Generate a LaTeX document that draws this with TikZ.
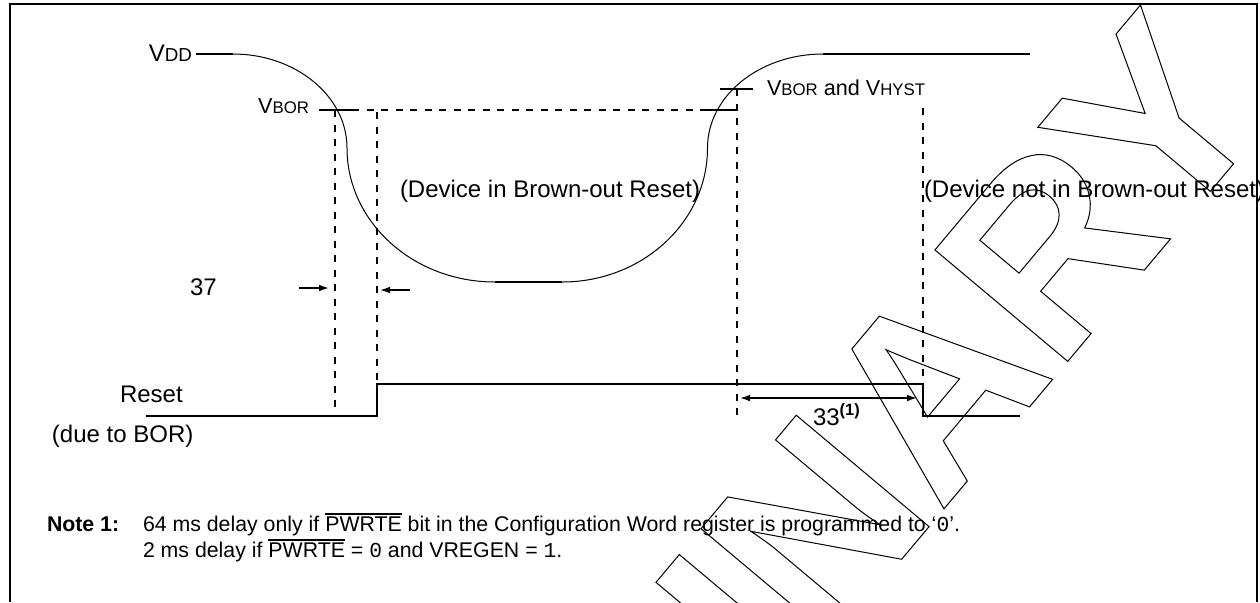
\documentclass[tikz,border=0pt]{standalone}
\usepackage{fontspec}
\setmainfont{Liberation Sans}
\newfontfamily\monofont{Liberation Mono}
\newfontfamily\wmfont{Liberation Sans Bold}
\usetikzlibrary{arrows.meta}
\newcommand\ovl[1]{\leavevmode\vbox{\hrule height 0.7pt\kern 0.9pt\hbox{#1}}}
\newcommand\outlined[1]{\special{pdf:literal direct 1 Tr 0.5 w}#1\special{pdf:literal direct 0 Tr}}
\newcommand\bigsz{\fontsize{12}{14}\selectfont}
\newcommand\midsz{\fontsize{10.8}{13}\selectfont}
\newcommand\notesz{\fontsize{10.65}{13}\selectfont}
\begin{document}
\begin{tikzpicture}[x=0.5pt,y=-0.5pt]
\tikzset{
  lbl/.style={inner sep=0pt, outer sep=0pt, font=\bigsz},
  vlbl/.style={inner sep=0pt, outer sep=0pt, font=\midsz},
  notelbl/.style={inner sep=0pt, outer sep=0pt, font=\notesz},
  sigline/.style={line width=1.1pt},
  curveline/.style={line width=0.5pt},
  dashline/.style={line width=0.9pt, dash pattern=on 3.5pt off 3.75pt},
  frameline/.style={line width=1.1pt},
  dimarrow/.style={line width=0.8pt, -{Latex[length=5pt,width=3.4pt]}},
  dimarrows/.style={line width=0.8pt, {Latex[length=5pt,width=3.4pt]}-{Latex[length=5pt,width=3.4pt]}},
}
\useasboundingbox (0,0) rectangle (1260,602);
\fill[white] (0,0) rectangle (1260,602);

% frame
\coordinate (fbl) at (10,602);
\coordinate (ftl) at (10,4);
\coordinate (ftr) at (1257,4);
\coordinate (fbr) at (1257,602);
\draw[frameline] (fbl) -- (ftl) -- (ftr) -- (fbr);

% VDD curve
\coordinate (vd0) at (196,54);
\coordinate (vd1) at (233,54);
\coordinate (vl) at (347,148);
\coordinate (vb0) at (495,282);
\coordinate (vb1) at (562,282);
\coordinate (vr) at (707.5,148);
\coordinate (vd2) at (823,54);
\coordinate (vd3) at (1030,54);
\draw[sigline] (vd0) -- (vd1);
\draw[curveline] (vd1) .. controls (295.7,54) and (347,96.1) .. (vl)
  .. controls (347,222) and (413.3,282) .. (vb0);
\draw[sigline] (vb0) -- (vb1);
\draw[curveline] (vb1) .. controls (642.3,282) and (707.5,222) .. (vr)
  .. controls (707.5,96.1) and (759.2,54) .. (vd2);
\draw[sigline] (vd2) -- (vd3);

% VBOR level
\coordinate (bo0) at (319,110);
\coordinate (bo1) at (352,110);
\coordinate (bo2) at (700,110);
\coordinate (bo3) at (736.7,110);
\draw[sigline] (bo0) -- (bo1);
\draw[dashline] (bo1) -- (bo2);
\draw[sigline] (bo2) -- (bo3);
\coordinate (hy0) at (720,89);
\coordinate (hy1) at (752.7,89);
\draw[sigline] (hy0) -- (hy1);

% vertical dashed lines
\coordinate (d1t) at (335,110);   \coordinate (d1b) at (335,412);
\coordinate (d2t) at (376.7,112); \coordinate (d2b) at (376.7,383);
\coordinate (d3t) at (736.7,89);  \coordinate (d3b) at (736.7,418);
\coordinate (d4t) at (922.7,108); \coordinate (d4b) at (922.7,384);
\draw[dashline] (d1t) -- (d1b);
\draw[dashline] (d2t) -- (d2b);
\draw[dashline] (d3t) -- (d3b);
\draw[dashline] (d4t) -- (d4b);

% Reset waveform
\coordinate (r0) at (146,416);
\coordinate (r1) at (376.7,416);
\coordinate (r2) at (376.7,384);
\coordinate (r3) at (922.7,384);
\coordinate (r4) at (922.7,416);
\coordinate (r5) at (1020,416);
\draw[sigline] (r0) -- (r1) -- (r2) -- (r3) -- (r4) -- (r5);

% 37 arrows
\coordinate (a1s) at (299,288); \coordinate (a1e) at (329,288);
\coordinate (a2s) at (410,290); \coordinate (a2e) at (380,290);
\draw[dimarrow] (a1s) -- (a1e);
\draw[dimarrow] (a2s) -- (a2e);
% 33 arrow
\coordinate (b1) at (740,398); \coordinate (b2) at (917,398);
\draw[dimarrows] (b1) -- (b2);

% labels
\node[lbl, anchor=base east] (vddlbl) at (192,61) {V{\fontsize{9.4}{11}\selectfont DD}};
\node[vlbl, anchor=base east] (vborlbl) at (309,113) {V{\fontsize{8.4}{10}\selectfont BOR}};
\node[vlbl, anchor=base west] (hystlbl) at (767,95) {V{\fontsize{8.4}{10}\selectfont BOR} and V{\fontsize{8.4}{10}\selectfont HYST}};
\node[lbl, anchor=base west] (inbor) at (400,197) {(Device in Brown-out Reset)};
\node[lbl, anchor=base west] (notbor) at (924,197) {(Device not in Brown-out Reset)};
\node[lbl, anchor=base west] (t37) at (190,295) {37};
\node[lbl, anchor=base west] (t33) at (813,425) {33\raisebox{5pt}{\fontsize{8.2}{10}\selectfont\bfseries (1)}};
\node[lbl, anchor=base west] (rst) at (120,402) {Reset};
\node[lbl, anchor=base west] (due) at (52,442) {(due to BOR)};

% note
\node[notelbl, anchor=base west, font=\notesz\bfseries] (note) at (47,531) {Note 1:};
\node[notelbl, anchor=base west] (n1) at (143,531) {64 ms delay only if \ovl{PWRTE} bit in the Configuration Word register is programmed to ‘{\monofont 0}’.};
\node[notelbl, anchor=base west] (n2) at (143,557) {2 ms delay if \ovl{PWRTE} = {\monofont 0} and VREGEN = {\monofont 1}.};

% watermark
\begin{scope}
\clip (0,0) rectangle (1260,602);
\node[inner sep=0pt, outer sep=0pt, anchor=base west, rotate=50, font=\wmfont\fontsize{126}{130}\selectfont] (wm) at (166,1436) {\outlined{PRELIMINARY}};
\end{scope}
\end{tikzpicture}
\end{document}
